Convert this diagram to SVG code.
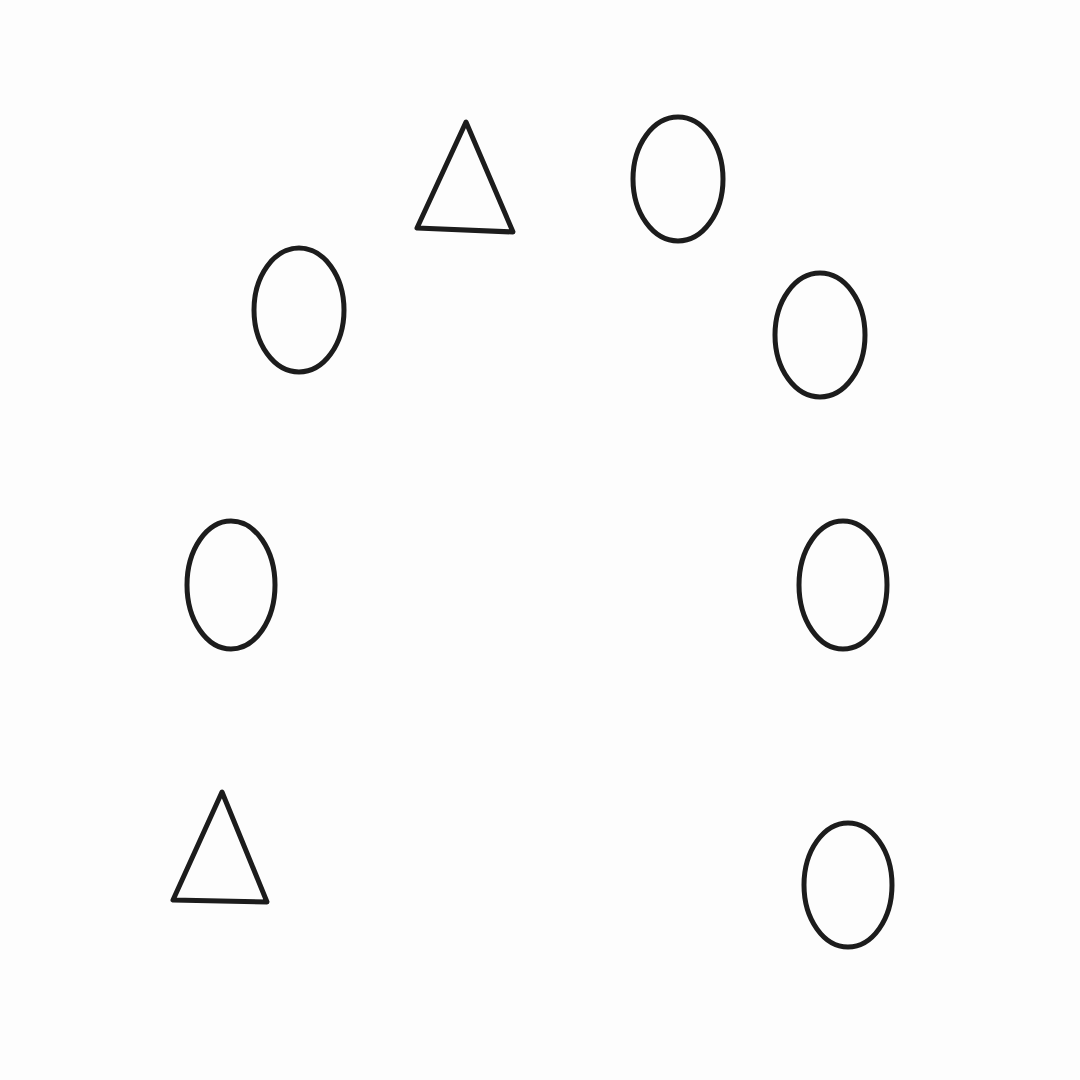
<svg xmlns="http://www.w3.org/2000/svg" width="1080" height="1080" viewBox="0 0 1080 1080">
<style>
.s{fill:none;stroke:#1c1c1c;stroke-width:5;stroke-linejoin:round}
</style>
<rect width="1080" height="1080" fill="#fdfdfd"/>
<g id="shape-o1"><ellipse class="s" cx="678" cy="179" rx="45" ry="62"/></g>
<g id="shape-o2"><ellipse class="s" cx="299" cy="310" rx="45" ry="62"/></g>
<g id="shape-o3"><ellipse class="s" cx="820" cy="335" rx="45" ry="62"/></g>
<g id="shape-o4"><ellipse class="s" cx="231" cy="585" rx="44" ry="64"/></g>
<g id="shape-o5"><ellipse class="s" cx="843" cy="585" rx="44" ry="64"/></g>
<g id="shape-o6"><ellipse class="s" cx="848" cy="885" rx="44" ry="62"/></g>
<g id="shape-t1"><polygon class="s" points="466,122 417,228 513,232"/></g>
<g id="shape-t2"><polygon class="s" points="222,792 173,900 267,902"/></g>
</svg>
